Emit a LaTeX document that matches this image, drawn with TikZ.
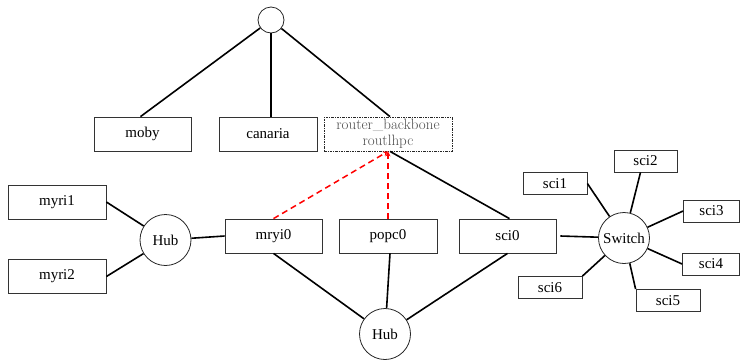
\documentclass[tikz,border=0pt]{standalone}
\usepackage{fontspec}
\setmainfont{Liberation Serif}
\newfontfamily\lmfont{Latin Modern Roman}
\usetikzlibrary{arrows.meta}
\begin{document}
\begin{tikzpicture}[x=1pt,y=-1pt,
  box/.style={draw=black!80,line width=0.8pt,rectangle,inner sep=0pt,font=\fontsize{15}{17}\selectfont},
  hub/.style={draw=black!85,line width=0.8pt,circle,inner sep=0pt,minimum size=51pt,font=\fontsize{15}{17}\selectfont},
  link/.style={line width=1.6pt,black},
  rlink/.style={line width=1.5pt,red,dash pattern=on 6pt off 4pt,-{Stealth[length=5pt,width=5pt]}}]
\useasboundingbox (0,0) rectangle (740,360);
% top
\node[draw=black!85,line width=0.8pt,circle,minimum size=26pt,inner sep=0pt] (top) at (271,20) {};
\node[box,minimum width=97pt,minimum height=34pt] (moby) at (142.5,134) {moby};
\node[box,minimum width=98pt,minimum height=34pt] (canaria) at (268,134) {canaria};
\node[draw=black!85,line width=0.8pt,dash pattern=on 2.5pt off 1.2pt on 0.6pt off 1.2pt,rectangle,inner sep=0pt,minimum width=128pt,minimum height=34pt,align=center,text=black!70,font=\lmfont\fontsize{15}{15.5}\selectfont] (router) at (388,134) {router\_backbone\\routlhpc};
% middle
\node[box,minimum width=98pt,minimum height=34pt] (myri1) at (57,202) {myri1};
\node[box,minimum width=98pt,minimum height=34pt] (myri2) at (57,276.5) {myri2};
\node[hub] (hubl) at (165.5,240) {Hub};
\node[box,minimum width=97pt,minimum height=34pt] (mryi0) at (273.5,236) {mryi0};
\node[box,minimum width=98pt,minimum height=34pt] (popc0) at (388,236) {popc0};
\node[box,minimum width=97pt,minimum height=34pt] (sci0) at (507.5,236) {sci0};
\node[hub] (hubb) at (385,334) {Hub};
\node[hub] (sw) at (624,238) {Switch};
\node[box,minimum width=64pt,minimum height=22pt] (sci1) at (555,183.5) {sci1};
\node[box,minimum width=63pt,minimum height=22pt] (sci2) at (645.5,161) {sci2};
\node[box,minimum width=56pt,minimum height=22pt] (sci3) at (711.5,211) {sci3};
\node[box,minimum width=57pt,minimum height=22pt] (sci4) at (711,264) {sci4};
\node[box,minimum width=64pt,minimum height=22pt] (sci5) at (668,300.5) {sci5};
\node[box,minimum width=64pt,minimum height=22pt] (sci6) at (550,287.5) {sci6};
% links
\draw[link] (top) -- ([xshift=-2pt]moby.north);
\draw[link] (top) -- (top |- canaria.north);
\draw[link] (top) -- ([xshift=2pt]router.north);
\draw[link] ([xshift=2pt]router.south) -- ([xshift=2pt]sci0.north);
\draw[rlink] (mryi0.north) -- (router.south);
\draw[rlink] (popc0.north) -- (router.south);
\draw[link] (myri1.east) -- (hubl);
\draw[link] (myri2.east) -- (hubl);
\draw[link] (hubl) -- (mryi0.west);
\draw[link] (mryi0.south) -- (hubb);
\draw[link] ([xshift=2pt]popc0.south) -- (hubb);
\draw[link] (sci0.south) -- (hubb);
\draw[link] ([xshift=4pt]sci0.east) -- (sw);
\draw[link] (sci1.east) -- (sw);
\draw[link] ([xshift=-5pt]sci2.south) -- (sw);
\draw[link] (sci3.west) -- (sw);
\draw[link] (sci4.west) -- (sw);
\draw[link] (sci5.north west) -- (sw);
\draw[link] (sci6.north east) -- (sw);
\end{tikzpicture}
\end{document}
